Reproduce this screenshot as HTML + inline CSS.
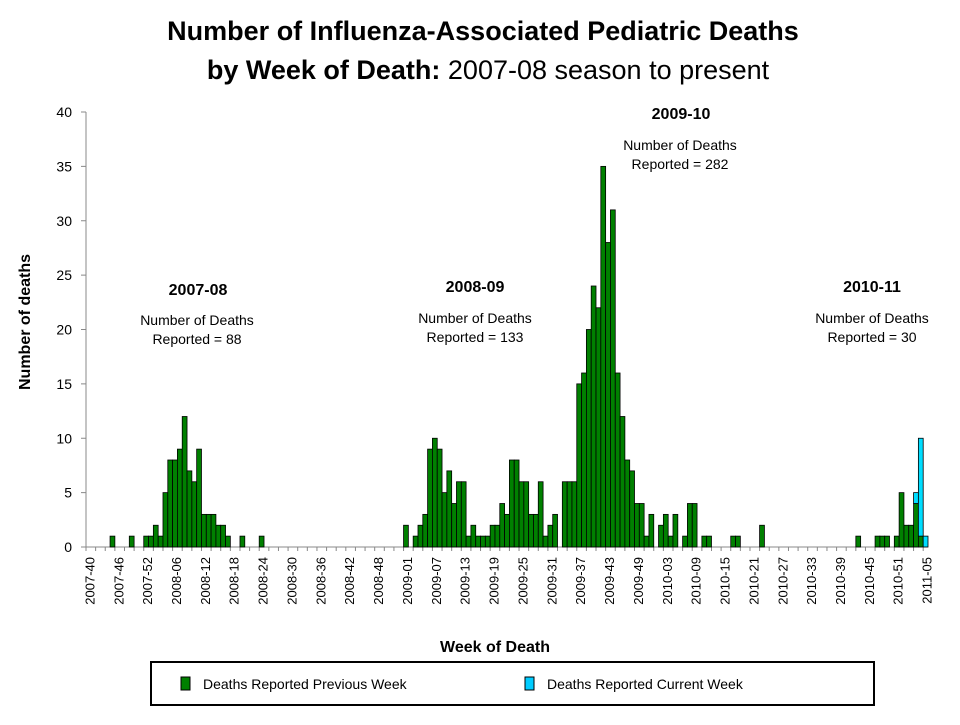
<!DOCTYPE html>
<html><head><meta charset="utf-8"><style>
body{margin:0;background:#fff;}
svg text{font-family:"Liberation Sans",Arial,sans-serif;}
</style></head><body>
<svg width="960" height="720" viewBox="0 0 960 720" xmlns="http://www.w3.org/2000/svg">
<rect width="960" height="720" fill="#fff"/>
<text x="483" y="40" text-anchor="middle" font-size="27" font-weight="bold">Number of Influenza-Associated Pediatric Deaths</text>
<text x="488" y="79" text-anchor="middle" font-size="27"><tspan font-weight="bold">by Week of Death:</tspan> 2007-08 season to present</text>
<text transform="translate(30,322) rotate(-90)" text-anchor="middle" font-size="16" font-weight="bold">Number of deaths</text>
<text x="495" y="652" text-anchor="middle" font-size="16" font-weight="bold">Week of Death</text>
<g id="yaxis"></g>
<g id="xaxis"></g>
<g id="bars"></g>
<g>
<text x="198" y="295" text-anchor="middle" font-size="16" font-weight="bold">2007-08</text>
<text x="197" y="325" text-anchor="middle" font-size="14">Number of Deaths</text>
<text x="197" y="344" text-anchor="middle" font-size="14">Reported = 88</text></g>
<g>
<text x="475" y="292" text-anchor="middle" font-size="16" font-weight="bold">2008-09</text>
<text x="475" y="323" text-anchor="middle" font-size="14">Number of Deaths</text>
<text x="475" y="342" text-anchor="middle" font-size="14">Reported = 133</text></g>
<g>
<text x="681" y="119" text-anchor="middle" font-size="16" font-weight="bold">2009-10</text>
<text x="680" y="150" text-anchor="middle" font-size="14">Number of Deaths</text>
<text x="680" y="169" text-anchor="middle" font-size="14">Reported = 282</text></g>
<g>
<text x="872" y="292" text-anchor="middle" font-size="16" font-weight="bold">2010-11</text>
<text x="872" y="323" text-anchor="middle" font-size="14">Number of Deaths</text>
<text x="872" y="342" text-anchor="middle" font-size="14">Reported = 30</text></g>
<g>
<rect x="151" y="662" width="723" height="43" fill="#fff" stroke="#000" stroke-width="2"/>
<rect x="181" y="677" width="9" height="13" fill="#008000" stroke="#000"/>
<text x="203" y="689" font-size="14">Deaths Reported Previous Week</text>
<rect x="525" y="677" width="9" height="13" fill="#00ccff" stroke="#000"/>
<text x="547" y="689" font-size="14">Deaths Reported Current Week</text>
</g>
</svg>
<script>
const yTicks=[0,5,10,15,20,25,30,35,40];
const seasonLens=[["2007",40,52],["2008",1,53],["2009",1,52],["2010",1,52],["2011",1,5]];
const prevIdx=[5,9,12,13,14,15,16,17,18,19,20,21,22,23,24,25,26,27,28,29,32,36,
66,68,69,70,71,72,73,74,75,76,77,78,79,80,81,82,83,84,85,86,87,88,89,90,91,92,93,94,95,96,97,
99,100,101,102,103,104,105,106,107,108,109,110,111,112,113,114,115,116,117,119,120,121,122,124,125,126,128,129,134,135,140,
160,164,165,166,168,169,170,171,172,173];
const prevVals=[1,1,1,1,2,1,5,8,8,9,12,7,6,9,3,3,3,2,2,1,1,1,
2,1,2,3,9,10,9,5,7,4,6,6,1,2,1,1,1,2,2,4,3,8,8,6,6,3,3,6,1,2,3,
6,6,6,15,16,20,24,22,35,28,31,16,12,8,7,4,4,1,3,2,3,1,3,1,4,4,1,1,1,1,2,
1,1,1,1,1,5,2,2,4,1];
const currIdx=[172,173,174];
const currVals=[1,9,1];

const NS="http://www.w3.org/2000/svg";
const X0=86,X1=928,Y0=547,Y1=112,YMAX=40;
const categories=[];
seasonLens.forEach(([yr,a,b])=>{for(let w=a;w<=b;w++)categories.push(yr+"-"+String(w).padStart(2,"0"));});
const N=categories.length,BW=(X1-X0)/N;
const xs=i=>X0+i*BW;
const ys=v=>Y0-(v/YMAX)*(Y0-Y1);
function mk(tag,attrs,parent){const e=document.createElementNS(NS,tag);for(const k in attrs)e.setAttribute(k,attrs[k]);parent.appendChild(e);return e;}
const ya=document.getElementById("yaxis"),xa=document.getElementById("xaxis"),bg=document.getElementById("bars");
const yl=mk("line",{x1:X0,y1:Y1,x2:X0,y2:Y0,stroke:"#888","stroke-width":1},ya);


yTicks.forEach(t=>{
 const tk=mk("line",{x1:X0-5,x2:X0,y1:ys(t),y2:ys(t),stroke:"#888"},ya);
 
 
 const tx=mk("text",{x:X0-14,y:ys(t)+5,"text-anchor":"end","font-size":"14"},ya);
 tx.textContent=t;
 
 
});
const xl=mk("line",{x1:X0,y1:Y0,x2:X1,y2:Y0,stroke:"#888"},xa);


categories.forEach((c,i)=>{
 if(i%2===0){const tk=mk("line",{x1:xs(i),x2:xs(i),y1:Y0,y2:Y0+4,stroke:"#888"},xa);
 
 }
 if(i%6===0){
  const cx=xs(i)+BW/2+1;
  const tx=mk("text",{transform:`translate(${cx+5},${Y0+10}) rotate(-90)`,"text-anchor":"end","font-size":"13"},xa);
  tx.textContent=c;
  
  
 }
});
const prevMap={};
prevIdx.forEach((k,j)=>{
 prevMap[k]=prevVals[j];
 const r=mk("rect",{x:xs(k),y:ys(prevVals[j]),width:BW,height:Y0-ys(prevVals[j]),fill:"#008000",stroke:"#000","stroke-width":0.8},bg);
 
 
});
currIdx.forEach((k,j)=>{
 const base=prevMap[k]||0;
 const r=mk("rect",{x:xs(k),y:ys(base+currVals[j]),width:BW,height:ys(base)-ys(base+currVals[j]),fill:"#00ddff",stroke:"#000","stroke-width":0.8},bg);
 
 
});
</script>
</body></html>
